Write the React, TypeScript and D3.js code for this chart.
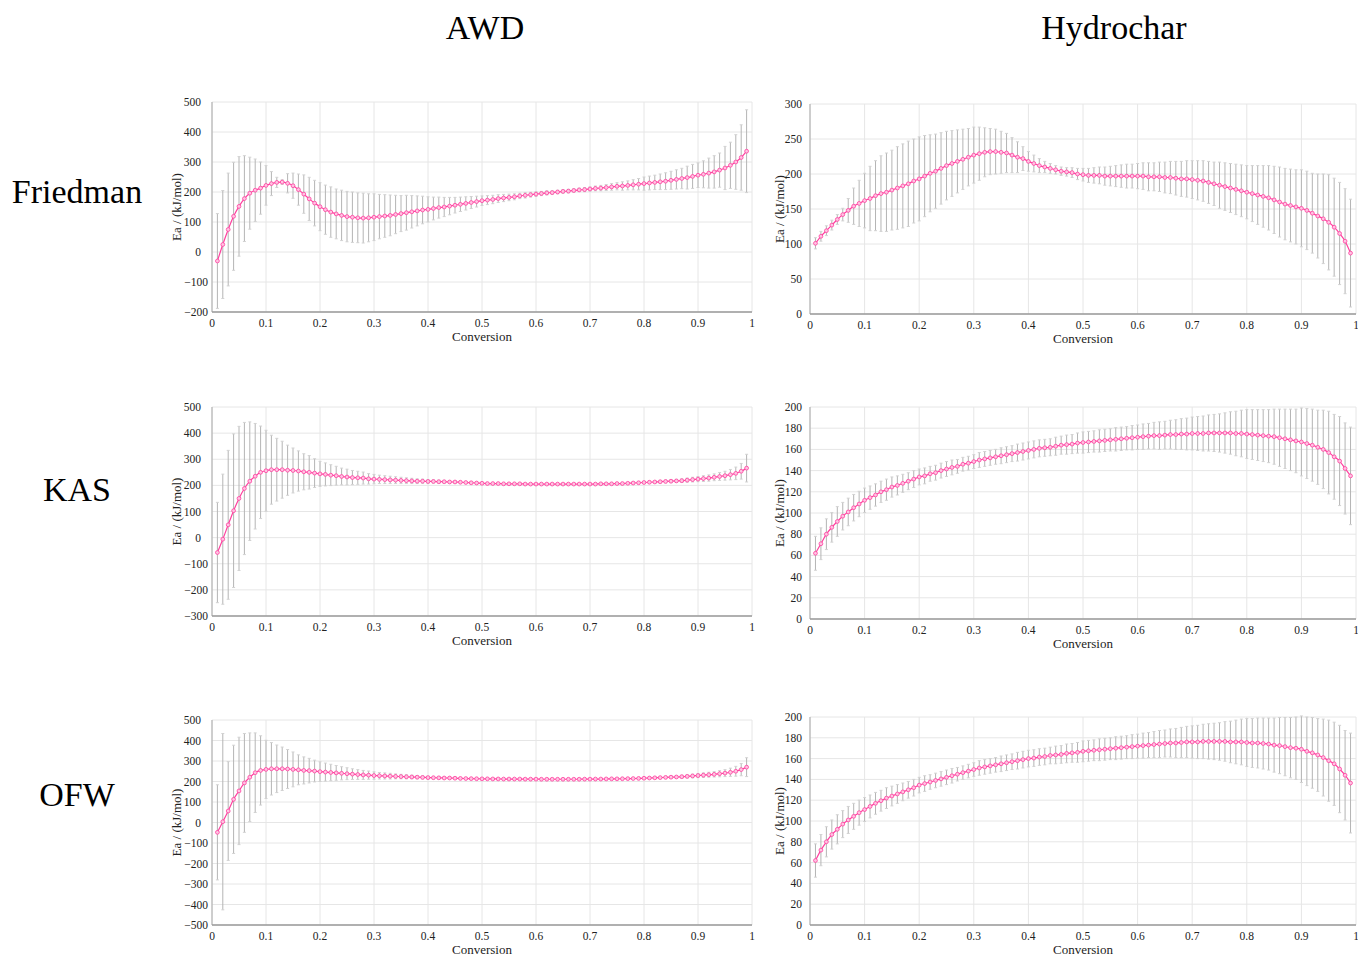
import * as d3 from 'd3'

// conversion values (x) shared by every panel
const CONVERSION = [
  0.01, 0.02, 0.03, 0.04, 0.05, 0.06, 0.07, 0.08, 0.09, 0.1,
  0.11, 0.12, 0.13, 0.14, 0.15, 0.16, 0.17, 0.18, 0.19, 0.2,
  0.21, 0.22, 0.23, 0.24, 0.25, 0.26, 0.27, 0.28, 0.29, 0.3,
  0.31, 0.32, 0.33, 0.34, 0.35, 0.36, 0.37, 0.38, 0.39, 0.4,
  0.41, 0.42, 0.43, 0.44, 0.45, 0.46, 0.47, 0.48, 0.49, 0.5,
  0.51, 0.52, 0.53, 0.54, 0.55, 0.56, 0.57, 0.58, 0.59, 0.6,
  0.61, 0.62, 0.63, 0.64, 0.65, 0.66, 0.67, 0.68, 0.69, 0.7,
  0.71, 0.72, 0.73, 0.74, 0.75, 0.76, 0.77, 0.78, 0.79, 0.8,
  0.81, 0.82, 0.83, 0.84, 0.85, 0.86, 0.87, 0.88, 0.89, 0.9,
  0.91, 0.92, 0.93, 0.94, 0.95, 0.96, 0.97, 0.98, 0.99,
]
const X_TICKS = [0, 0.1, 0.2, 0.3, 0.4, 0.5, 0.6, 0.7, 0.8, 0.9, 1]
const X_TICK_LABELS = ['0', '0.1', '0.2', '0.3', '0.4', '0.5', '0.6', '0.7', '0.8', '0.9', '1']

const COLUMN_TITLES = ['AWD', 'Hydrochar']
const METHODS = ['Friedman', 'KAS', 'OFW']

// Ea (kJ/mol) and error half-widths
const FRIEDMAN_AWD_EA = [
  -30, 25, 75, 119, 152, 178, 196, 206, 213, 222,
  228, 232, 233, 229, 221, 208, 193, 177, 163, 151,
  141, 133, 127, 122, 118, 116, 114, 113, 114, 116,
  118, 120, 122, 125, 128, 131, 134, 137, 140, 142,
  145, 148, 150, 153, 156, 159, 162, 165, 168, 171,
  173, 175, 178, 180, 182, 184, 187, 189, 191, 193,
  195, 197, 198, 200, 202, 203, 205, 207, 208, 210,
  212, 213, 215, 217, 219, 220, 222, 224, 226, 228,
  230, 232, 234, 236, 239, 242, 245, 248, 252, 256,
  259, 263, 267, 273, 280, 289, 300, 315, 336,
]
const FRIEDMAN_AWD_ERR = [
  158, 180, 188, 180, 166, 143, 120, 104, 87, 66,
  40, 17, 8, 32, 42, 52, 64, 72, 76, 80,
  82, 84, 83, 84, 84, 84, 83, 83, 80, 78,
  74, 71, 68, 64, 60, 58, 54, 50, 46, 42,
  38, 35, 32, 29, 26, 24, 22, 20, 18, 16,
  15, 14, 13, 12, 11, 10, 9, 9, 8, 8,
  7, 7, 6, 6, 6, 6, 6, 6, 7, 7,
  8, 9, 10, 11, 12, 14, 15, 17, 19, 22,
  23, 24, 26, 28, 30, 32, 34, 38, 40, 41,
  45, 50, 54, 57, 72, 77, 91, 109, 138,
]
const FRIEDMAN_HYDRO_EA = [
  101, 111, 119, 127, 135, 142, 148, 154, 158, 162,
  165, 169, 172, 174, 177, 180, 183, 186, 190, 193,
  197, 201, 204, 208, 212, 215, 218, 221, 224, 227,
  229, 231, 232, 232, 231, 230, 227, 224, 222, 218,
  215, 212, 210, 208, 206, 204, 203, 202, 200, 199,
  198, 198, 198, 197, 197, 197, 197, 197, 197, 197,
  197, 196, 196, 196, 195, 195, 194, 193, 193, 192,
  191, 190, 188, 186, 184, 182, 180, 178, 176, 174,
  172, 170, 168, 166, 163, 160, 157, 155, 153, 151,
  148, 144, 140, 136, 131, 124, 115, 104, 87,
]
const FRIEDMAN_HYDRO_ERR = [
  8, 7, 7, 7, 7, 9, 17, 26, 33, 39,
  46, 50, 54, 56, 57, 59, 60, 61, 60, 60,
  58, 55, 53, 51, 49, 47, 45, 43, 41, 40,
  38, 35, 33, 32, 30, 28, 25, 22, 17, 14,
  12, 10, 8, 7, 6, 6, 6, 7, 8, 9,
  10, 11, 12, 13, 14, 15, 16, 17, 17, 18,
  19, 20, 20, 21, 22, 23, 24, 25, 26, 27,
  28, 29, 30, 31, 33, 34, 35, 36, 37, 38,
  40, 42, 44, 46, 48, 50, 51, 52, 53, 55,
  56, 57, 60, 64, 68, 70, 73, 75, 77,
]
const KAS_AWD_EA = [
  -57, -6, 49, 103, 150, 188, 216, 235, 250, 256,
  260, 260, 260, 258, 257, 255, 252, 250, 247, 244,
  242, 239, 237, 234, 232, 230, 229, 228, 225, 224,
  223, 222, 221, 220, 219, 218, 217, 216, 216, 215,
  215, 214, 214, 213, 213, 212, 211, 210, 209, 208,
  207, 207, 207, 206, 206, 206, 206, 205, 205, 205,
  205, 205, 205, 205, 205, 205, 205, 205, 205, 205,
  205, 206, 206, 206, 207, 207, 208, 209, 210, 211,
  212, 213, 214, 215, 216, 217, 218, 220, 222, 224,
  226, 228, 231, 234, 237, 241, 246, 254, 266,
]
const KAS_AWD_ERR = [
  192, 249, 285, 294, 276, 253, 227, 202, 177, 155,
  132, 120, 109, 96, 86, 77, 69, 64, 55, 48,
  44, 40, 36, 32, 30, 27, 25, 23, 20, 18,
  16, 15, 14, 13, 12, 11, 10, 9, 8, 7,
  6, 6, 5, 5, 5, 4, 4, 4, 4, 4,
  3, 3, 3, 3, 3, 3, 3, 3, 3, 3,
  3, 3, 3, 3, 3, 3, 3, 3, 3, 3,
  3, 3, 3, 3, 3, 3, 3, 4, 4, 4,
  4, 4, 5, 5, 6, 6, 7, 8, 9, 10,
  11, 12, 13, 15, 17, 20, 24, 30, 53,
]
const KAS_HYDRO_EA = [
  62, 71, 80, 86.5, 92, 97, 101, 105, 108.5, 112,
  114.5, 117, 120, 122, 124.5, 126, 128, 130, 132, 134,
  135, 137, 138, 140, 141.5, 143, 144, 146, 147, 148.5,
  150, 151, 152, 153, 154, 155, 156, 157, 158, 159,
  160, 161, 161.5, 162, 163, 164, 164.5, 165, 166, 166.5,
  167, 167.5, 168, 168.5, 169, 169.5, 170, 170.5, 171, 171.5,
  172, 172.5, 173, 173, 173.5, 174, 174, 174.5, 174.5, 175,
  175, 175, 175.5, 175.5, 175.5, 175.5, 175.5, 175, 175, 174.5,
  174, 173.5, 173, 172.5, 172, 171, 170, 169, 168, 167,
  165.5, 164, 162, 160, 157, 153, 149, 142, 135,
]
const KAS_HYDRO_ERR = [
  16, 15, 14.5, 14, 14, 13, 13, 12.5, 12, 11.5,
  11, 10.5, 10, 10, 9.5, 9, 8.5, 8, 8, 7.5,
  7.5, 7, 7, 7, 7, 7, 6.5, 6.5, 6.5, 6.5,
  7, 7, 7, 7, 7.5, 7.5, 7.5, 8, 8, 8,
  8, 8, 8, 8, 8.5, 8.5, 9, 9, 9.5, 10,
  10, 10, 10.5, 10.5, 10.5, 11, 11, 11, 11.5, 11.5,
  12, 12, 12.5, 13, 13, 13.5, 14, 14.5, 15, 15.5,
  16, 16.5, 17, 17.5, 18, 19, 20, 21, 22, 23,
  23.5, 24, 24.5, 25, 26, 27, 28, 29, 30, 32,
  33, 34, 35, 37, 39, 40, 42, 43, 46,
]
const OFW_AWD_EA = [
  -48, 4, 56, 113, 154, 193, 221, 243, 254, 259,
  262, 262, 262, 261, 259, 257, 254, 253, 251, 248,
  246, 244, 242, 240, 238, 236, 234, 232, 231, 229,
  228, 227, 226, 225, 224, 223, 222, 221, 220, 219,
  218.5, 218, 217, 217, 216, 215, 214.5, 214, 213.5, 213,
  213, 212.5, 212.5, 212, 212, 212, 212, 211.5, 211.5, 211.5,
  211, 211, 211, 211, 211, 211, 211, 211, 211.5, 211.5,
  212, 212, 212.5, 213, 213, 213.5, 214, 214.5, 215, 216,
  217, 218, 219, 220, 221, 222, 223.5, 225, 227, 229,
  231, 233, 235, 238, 241, 245, 250, 258, 270,
]
const OFW_AWD_ERR = [
  232, 430, 241, 264, 262, 241, 216, 194, 169, 142,
  128, 116, 106, 95, 85, 73, 66, 60, 53, 48,
  44, 40, 36, 32, 29, 26, 24, 22, 20, 18,
  16, 15, 14, 12, 11, 10, 9, 8, 7, 7,
  6, 6, 5, 5, 5, 4, 4, 4, 4, 4,
  3, 3, 3, 3, 3, 3, 3, 3, 3, 3,
  3, 3, 3, 3, 3, 3, 3, 3, 3, 3,
  3, 3, 3, 3, 3, 3, 3, 3, 3, 3,
  4, 4, 5, 5, 6, 6, 7, 8, 9, 10,
  11, 12, 13, 15, 17, 20, 24, 30, 46,
]
const OFW_HYDRO_EA = [
  62, 72, 80, 87, 92, 97, 101, 104.5, 108, 111,
  114, 117, 119.5, 122, 124, 126, 128, 130, 132, 134.5,
  136, 137.5, 139, 140.5, 142, 143.5, 145, 146.5, 148, 149.5,
  151, 152, 153, 154, 155, 156, 157, 158, 159, 160,
  160.5, 161.5, 162, 163, 163.5, 164, 165, 165.5, 166, 167,
  167.5, 168, 168.5, 169, 169.5, 170, 170.5, 171, 171.5, 172,
  172.5, 173, 173.5, 174, 174.5, 175, 175, 175.5, 176, 176,
  176, 176.5, 176.5, 176.5, 176.5, 176.5, 176, 176, 176, 175.5,
  175, 175, 174.5, 174, 173, 172.5, 171.5, 170.5, 170, 169,
  167, 165.5, 163.5, 161, 158, 155, 150, 144, 136.5,
]
const OFW_HYDRO_ERR = [
  16, 15, 14.5, 14, 14, 13, 13, 12.5, 12, 11.5,
  11, 10.5, 10, 10, 9.5, 9, 8.5, 8, 8, 7.5,
  7.5, 7, 7, 7, 7, 7, 6.5, 6.5, 6.5, 6.5,
  7, 7, 7, 7, 7.5, 7.5, 7.5, 8, 8, 8,
  8, 8, 8, 8, 8.5, 8.5, 9, 9, 9.5, 10,
  10, 10, 10.5, 10.5, 10.5, 11, 11, 11, 11.5, 11.5,
  12, 12, 12.5, 13, 13, 13.5, 14, 14.5, 15, 15.5,
  16, 16.5, 17, 17.5, 18, 19, 20, 21, 22, 23,
  23.5, 24, 24.5, 25, 26, 27, 28, 29, 30, 32,
  33, 34, 35, 37, 39, 40, 42, 43, 48,
]

const SERIF = '"Times New Roman", "Liberation Serif", serif'
const PINK = '#ff409f'
const PAGE_H = 957

type Box = { left: number; right: number; top: number; bottom: number }

function Panel({ box, yDomain, yStep, values, errs, posGap, negGap, labelGap }: {
  box: Box; yDomain: [number, number]; yStep: number; values: number[]; errs: number[];
  posGap: number; negGap: number; labelGap: number
}) {
  const x = d3.scaleLinear().domain([0, 1]).range([box.left, box.right])
  const y = d3.scaleLinear().domain(yDomain).range([box.bottom, box.top])
  const yTicks = d3.range(yDomain[0], yDomain[1] + yStep / 2, yStep)
  const path = d3.line<number>()
    .x((d, i) => x(CONVERSION[i]))
    .y(d => y(d))
    .curve(d3.curveMonotoneX)(values)
  const midY = (box.top + box.bottom) / 2

  return (
    <g>
      {/* grid */}
      {yTicks.map(t => (
        <line key={'gy' + t} x1={box.left} x2={box.right} y1={y(t)} y2={y(t)} stroke='#e6e6e6' strokeWidth={1} />
      ))}
      {X_TICKS.map(t => (
        <line key={'gx' + t} x1={x(t)} x2={x(t)} y1={box.top} y2={box.bottom} stroke='#e6e6e6' strokeWidth={1} />
      ))}
      {/* error bars */}
      {CONVERSION.map((c, i) => {
        const cx = x(c)
        const lo = y(values[i] - errs[i])
        const hi = y(values[i] + errs[i])
        return (
          <g key={'e' + i}>
            <line x1={cx} x2={cx} y1={lo} y2={hi} stroke='#b4b4b4' strokeWidth={1} />
            <line x1={cx - 1.5} x2={cx + 1.5} y1={lo} y2={lo} stroke='#d2d2d2' strokeWidth={1} />
            <line x1={cx - 1.5} x2={cx + 1.5} y1={hi} y2={hi} stroke='#d2d2d2' strokeWidth={1} />
          </g>
        )
      })}
      {/* axes */}
      <line x1={box.left} x2={box.left} y1={box.top} y2={box.bottom} stroke='#a8a8a8' strokeWidth={1} />
      <line x1={box.left} x2={box.right} y1={box.bottom} y2={box.bottom} stroke='#9a9a9a' strokeWidth={1.5} />
      {/* series */}
      <path d={path ?? ''} fill='none' stroke={PINK} strokeWidth={1.2} />
      {CONVERSION.map((c, i) => (
        <circle key={'p' + i} cx={x(c)} cy={y(values[i])} r={1.9} fill='#ffc4e2' stroke={PINK} strokeWidth={0.8} />
      ))}
      {/* tick labels */}
      {yTicks.map(t => (
        <text key={'ty' + t} x={box.left - (t < 0 ? negGap : posGap)} y={y(t)} dy='0.35em' textAnchor='end'
          fontFamily={SERIF} fontSize={11.5} fill='#222'>{t < 0 ? '\u2212' + Math.abs(t) : t}</text>
      ))}
      {X_TICKS.map((t, i) => (
        <text key={'tx' + t} x={x(t)} y={box.bottom + 11} dy='0.35em' textAnchor='middle'
          fontFamily={SERIF} fontSize={11.5} fill='#222'>{X_TICK_LABELS[i]}</text>
      ))}
      <text x={(box.left + box.right) / 2} y={box.bottom + 24} dy='0.35em' textAnchor='middle'
        fontFamily={SERIF} fontSize={13} fill='#222'>Conversion</text>
      <text transform={`translate(${box.left - labelGap}, ${midY}) rotate(-90)`} dy='0.35em' textAnchor='middle'
        fontFamily={SERIF} fontSize={13} fill='#222'>Ea / (kJ/mol)</text>
    </g>
  )
}

export default function App() {
  const awd = { left: 212, right: 752 }
  const hyd = { left: 810, right: 1356 }
  const awdGaps = { posGap: 11, negGap: 4, labelGap: 36 }
  const hydGaps = { posGap: 8, negGap: 8, labelGap: 31 }
  const panels = [
    { box: { ...awd, top: 102, bottom: 312 }, yDomain: [-200, 500], yStep: 100, values: FRIEDMAN_AWD_EA, errs: FRIEDMAN_AWD_ERR, ...awdGaps },
    { box: { ...hyd, top: 104, bottom: 314 }, yDomain: [0, 300], yStep: 50, values: FRIEDMAN_HYDRO_EA, errs: FRIEDMAN_HYDRO_ERR, ...hydGaps },
    { box: { ...awd, top: 407, bottom: 616 }, yDomain: [-300, 500], yStep: 100, values: KAS_AWD_EA, errs: KAS_AWD_ERR, ...awdGaps },
    { box: { ...hyd, top: 407, bottom: 619 }, yDomain: [0, 200], yStep: 20, values: KAS_HYDRO_EA, errs: KAS_HYDRO_ERR, ...hydGaps },
    { box: { ...awd, top: 720, bottom: 925 }, yDomain: [-500, 500], yStep: 100, values: OFW_AWD_EA, errs: OFW_AWD_ERR, ...awdGaps },
    { box: { ...hyd, top: 717, bottom: 925 }, yDomain: [0, 200], yStep: 20, values: OFW_HYDRO_EA, errs: OFW_HYDRO_ERR, ...hydGaps },
  ]
  const titleX = [485, 1114]
  const methodY = [191, 489, 794]

  return (
    <svg width={1358} height={PAGE_H} style={{ position: 'absolute', left: 0, top: 0, display: 'block', background: '#fff' }}>
      <rect width={1358} height={PAGE_H} fill='#fff' />
      {COLUMN_TITLES.map((t, i) => (
        <text key={t} x={titleX[i]} y={27} dy='0.35em' textAnchor='middle' fontFamily={SERIF} fontSize={34} fill='#000'>{t}</text>
      ))}
      {METHODS.map((m, i) => (
        <text key={m} x={77} y={methodY[i]} dy='0.35em' textAnchor='middle' fontFamily={SERIF} fontSize={34} fill='#000'>{m}</text>
      ))}
      {panels.map((p, i) => (
        <Panel key={i} box={p.box} yDomain={p.yDomain as [number, number]} yStep={p.yStep}
          values={p.values} errs={p.errs} posGap={p.posGap} negGap={p.negGap} labelGap={p.labelGap} />
      ))}
    </svg>
  )
}
